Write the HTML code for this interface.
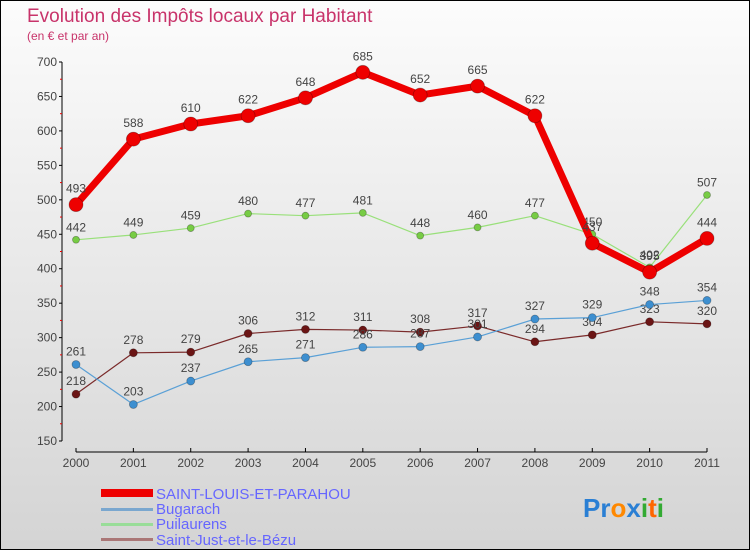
<!DOCTYPE html>
<html><head><meta charset="utf-8"><style>
body{margin:0}
#c{width:750px;height:550px;position:relative;background:linear-gradient(#fcfcfc,#d4d4d4);font-family:"Liberation Sans",sans-serif;box-sizing:border-box;border:1px solid #000;overflow:hidden}
svg{position:absolute;left:0;top:0}
</style></head><body>
<div id="c">
<svg id="s" width="750" height="550">
<text x="26" y="21" font-size="19" fill="#c8336a">Evolution des Impôts locaux par Habitant</text>
<text x="26" y="39" font-size="12" fill="#c8336a">(en € et par an)</text>
<g id="axes"></g><g id="series"></g>
<g>
<rect x="100" y="488" width="52" height="8" fill="#e00"/>
<text x="155" y="498" font-size="15" fill="#66f">SAINT-LOUIS-ET-PARAHOU</text>
<rect x="100" y="507" width="52" height="3" fill="#7aa7cf"/>
<text x="155" y="513" font-size="15" fill="#66f">Bugarach</text>
<rect x="100" y="522" width="52" height="3" fill="#9d9"/>
<text x="155" y="528" font-size="15" fill="#66f">Puilaurens</text>
<rect x="100" y="537" width="52" height="3" fill="#a77"/>
<text x="155" y="544" font-size="15" fill="#66f">Saint-Just-et-le-Bézu</text>
</g>
<text x="582" y="516" font-size="26" font-weight="bold"><tspan fill="#2a7fd4">Pr</tspan><tspan fill="#f80">o</tspan><tspan fill="#2a7fd4">x</tspan><tspan fill="#3a3">i</tspan><tspan fill="#f60">t</tspan><tspan fill="#3a3">i</tspan></text>
</svg>
</div>
<script>
const years=["2000","2001","2002","2003","2004","2005","2006","2007","2008","2009","2010","2011"];
const yTicks=[150,200,250,300,350,400,450,500,550,600,650,700];
const saintLouis=[493,588,610,622,648,685,652,665,622,437,395,444];
const bugarach=[261,203,237,265,271,286,287,301,327,329,348,354];
const puilaurens=[442,449,459,480,477,481,448,460,477,450,402,507];
const saintJust=[218,278,279,306,312,311,308,317,294,304,323,320];
const NS="http://www.w3.org/2000/svg";
const xS=i=>75+i*(706-75)/11;
const yS=v=>61+(700-v)*(440-61)/550;
function mk(t,a,p){const e=document.createElementNS(NS,t);for(const k in a)e.setAttribute(k,a[k]);p.appendChild(e);return e;}
const ax=document.getElementById('axes');
let e=mk('line',{x1:61,y1:61,x2:61,y2:440,stroke:'#000'},ax);


e=mk('line',{x1:75,y1:451,x2:706,y2:451,stroke:'#000'},ax);


yTicks.forEach((v,i)=>{
 mk('line',{x1:58,x2:61,y1:yS(v),y2:yS(v),stroke:'#000'},ax);
 if(i<yTicks.length-1)mk('line',{x1:59,x2:61,y1:yS(v+25),y2:yS(v+25),stroke:'#e00'},ax);
 const t=mk('text',{x:56,y:yS(v)+4,'font-size':12,fill:'#444','text-anchor':'end'},ax);t.textContent=v;
 
 
});
years.forEach((y,i)=>{
 mk('line',{x1:xS(i),x2:xS(i),y1:447,y2:451,stroke:'#000'},ax);
 const t=mk('text',{x:xS(i),y:466,'font-size':12,fill:'#444','text-anchor':'middle'},ax);t.textContent=y;
 
 
});
const sg=document.getElementById('series');
function draw(vals,color,w,r,name,dot){
 const p=mk('polyline',{points:vals.map((v,i)=>xS(i)+','+yS(v)).join(' '),fill:'none',stroke:color,'stroke-width':w,'stroke-linejoin':'round'},sg);
 
 
 vals.forEach((v,i)=>{
  const c=mk('circle',{cx:xS(i),cy:yS(v),r:r,fill:dot,stroke:'rgba(0,0,0,0.3)','stroke-width':0.8},sg);
  
  
  const t=mk('text',{x:xS(i),y:yS(v)-r-5,'font-size':12,fill:'#444','text-anchor':'middle'},sg);t.textContent=v;
  
  
 });
}
draw(saintJust,'#7a2a2a',1.2,4,'saint-just','#6b1515');
draw(bugarach,'#5aa0d6',1.2,4,'bugarach','#3d8fd0');
draw(puilaurens,'#99e07a',1.2,3.5,'puilaurens','#77cc44');
draw(saintLouis,'#ee0000',7,7,'saint-louis','#ee0000');
</script>
</body></html>
